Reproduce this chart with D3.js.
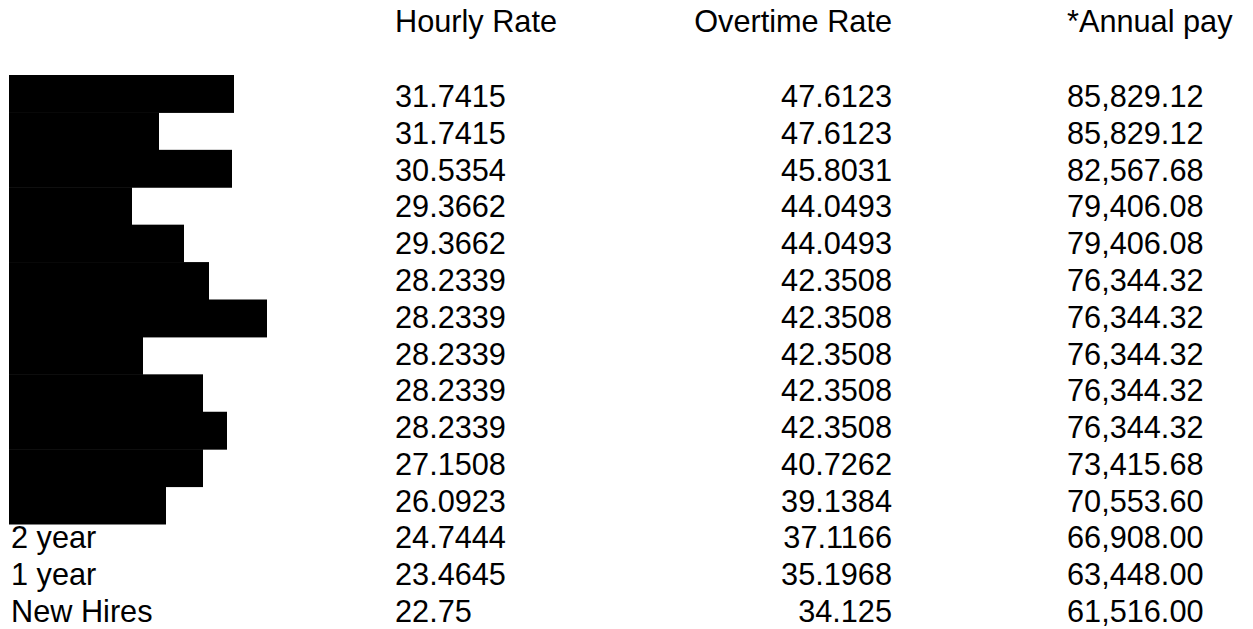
<!DOCTYPE html>
<html><head><meta charset="utf-8">
<script src="https://cdn.jsdelivr.net/npm/d3@7"></script>
<style>body{margin:0;background:#fff}svg{display:block}</style>
</head><body>
<script>
const headers = ["Hourly Rate", "Overtime Rate", "*Annual pay"];
const steps = ["", "", "", "", "", "", "", "", "", "", "", "", "2 year", "1 year", "New Hires"];
const hourly = ["31.7415","31.7415","30.5354","29.3662","29.3662","28.2339","28.2339","28.2339","28.2339","28.2339","27.1508","26.0923","24.7444","23.4645","22.75"];
const overtime = ["47.6123","47.6123","45.8031","44.0493","44.0493","42.3508","42.3508","42.3508","42.3508","42.3508","40.7262","39.1384","37.1166","35.1968","34.125"];
const annual = ["85,829.12","85,829.12","82,567.68","79,406.08","79,406.08","76,344.32","76,344.32","76,344.32","76,344.32","76,344.32","73,415.68","70,553.60","66,908.00","63,448.00","61,516.00"];
// redacted label extents
const redacted = [234, 159, 232, 132, 184, 209, 267, 143, 203, 227, 203, 166];

const W = 1253, H = 629;
const svg = d3.select("body").append("svg").attr("width", W).attr("height", H);
const font = "'Liberation Sans', Arial, sans-serif";
const fs = 30.7;

const idx = d3.range(steps.length);
const y = d3.scalePoint().domain(idx).range([107, 622]);
const yr = d3.scaleBand().domain(d3.range(redacted.length)).range([75, 524]).padding(0);
const xr = d3.scaleLinear().domain([0, 267]).range([0, 267]);
const x0 = 9;

// redaction bars
svg.append("g").selectAll("rect").data(redacted).join("rect")
  .attr("x", x0).attr("y", (d, i) => yr(i))
  .attr("width", d => xr(d) - x0).attr("height", yr.bandwidth() + 0.5)
  .attr("fill", "#000");

const g = svg.append("g").attr("font-family", font).attr("font-size", fs).attr("fill", "#000");

// headers
const hx = [{x: 395, a: "start"}, {x: 892, a: "end"}, {x: 1067, a: "start"}];
g.selectAll("text.h").data(headers).join("text").attr("class", "h")
  .attr("x", (d, i) => hx[i].x).attr("y", 32).attr("text-anchor", (d, i) => hx[i].a).text(d => d);

// label column
g.selectAll("text.s").data(steps).join("text").attr("class", "s")
  .attr("x", 11).attr("y", (d, i) => y(i)).text(d => d);

g.selectAll("text.hr").data(hourly).join("text").attr("class", "hr")
  .attr("x", 395).attr("y", (d, i) => y(i)).text(d => d);

g.selectAll("text.ot").data(overtime).join("text").attr("class", "ot")
  .attr("x", 892).attr("y", (d, i) => y(i)).attr("text-anchor", "end").text(d => d);

g.selectAll("text.an").data(annual).join("text").attr("class", "an")
  .attr("x", 1067).attr("y", (d, i) => y(i)).text(d => d);
</script>
</body></html>
